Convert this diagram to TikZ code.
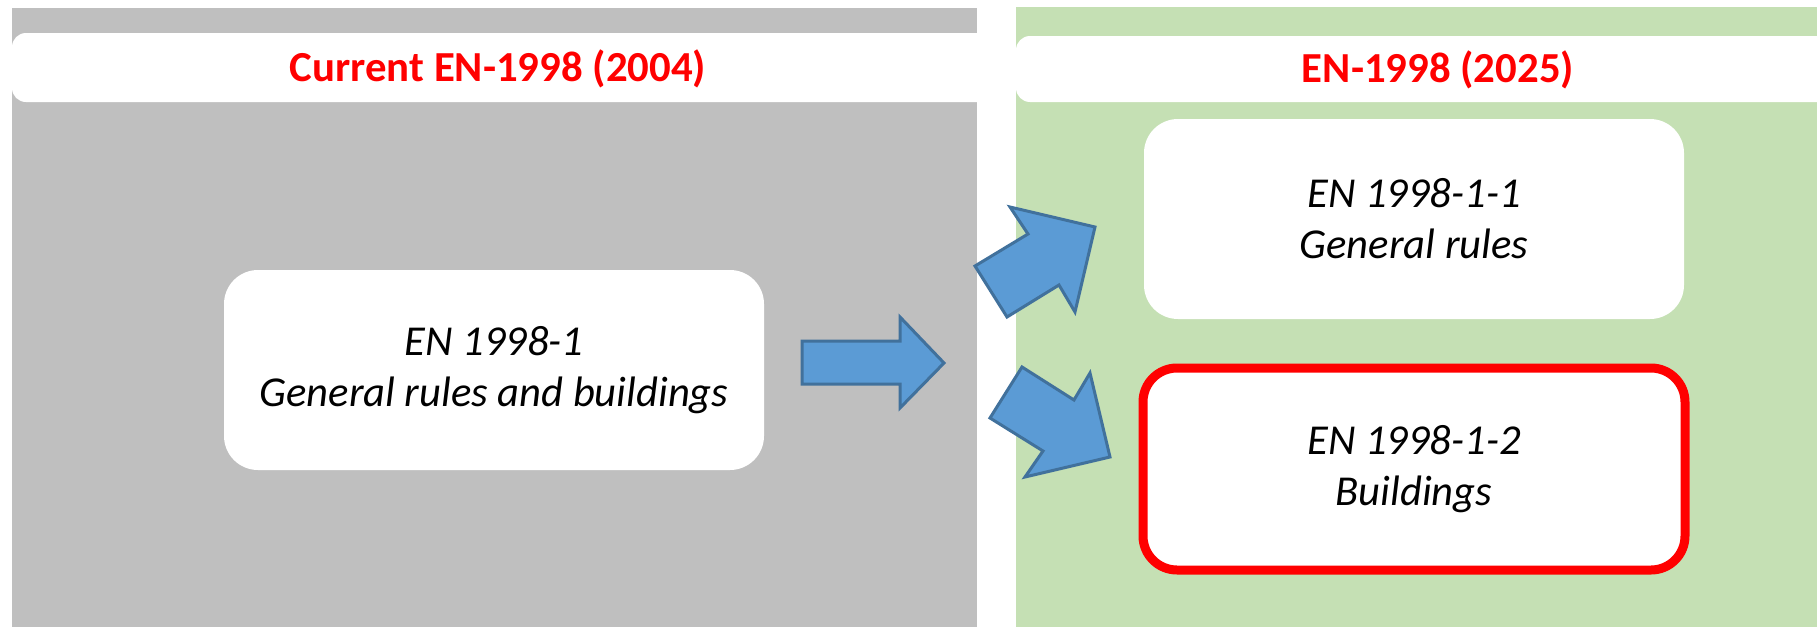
\documentclass[tikz,border=0pt]{standalone}
\usepackage{fontspec}
\setmainfont{Carlito}
\usepackage{tikz}
\usetikzlibrary{positioning}
\definecolor{panelgray}{HTML}{BFBFBF}
\definecolor{panelgreen}{HTML}{C5E0B4}
\definecolor{arrowblue}{HTML}{5B9BD5}
\definecolor{arrowedge}{HTML}{41719C}
\tikzstyle{headtext} = [text=red, font=\fontsize{21.4}{25}\selectfont\bfseries]
\tikzstyle{stdbox} = [fill=white, rounded corners=17pt, minimum width=270pt, minimum height=100pt, align=center, font=\fontsize{21.3}{25.5}\selectfont\itshape]
\tikzstyle{newbox} = [stdbox, draw=red, line width=4.5pt, minimum width=271pt, minimum height=101pt]
\tikzstyle{blockarrow} = [fill=arrowblue, draw=arrowedge, line width=1.5pt, line join=miter]

\begin{document}
\begin{tikzpicture}[x=0.5pt,y=-0.5pt]
		\useasboundingbox (0,0) rectangle (1817,627);
		\fill[panelgray] (12,8) rectangle (977,627);
		\fill[panelgreen] (1016,7) rectangle (1817,627);
		\begin{scope}
			\clip (0,0) rectangle (977,627);
			\fill[white, rounded corners=7pt] (12,33) rectangle (1000,102);
		\end{scope}
		\begin{scope}
			\clip (1016,0) rectangle (1817,627);
			\fill[white, rounded corners=7pt] (1016,36) rectangle (1840,102);
		\end{scope}
		\node[headtext] (oldhead) at (498,69) {Current EN-1998 (2004)};
		\node[headtext] (newhead) at (1438,70) {EN-1998 (2025)};
		\node[stdbox] (old) at (494,370) {EN 1998-1\\General rules and buildings};
		\node[stdbox] (general) at (1414,219) {EN 1998-1-1\\General rules};
		\node[newbox] (buildings) at (1414,469) {EN 1998-1-2\\Buildings};
		\draw[blockarrow] (802,341) -- (900,341) -- (900,317) -- (944,363) -- (900,408) -- (900,384) -- (802,384) -- cycle;
		\draw[blockarrow] (975,266) -- (1028,234) -- (1010,207) -- (1095,227) -- (1075,312) -- (1059,285) -- (1007,317) -- cycle;
		\draw[blockarrow] (1022,367) -- (1074,400) -- (1090,373) -- (1110,457) -- (1025,477) -- (1043,451) -- (990,418) -- cycle;
	\end{tikzpicture}
\end{document}
